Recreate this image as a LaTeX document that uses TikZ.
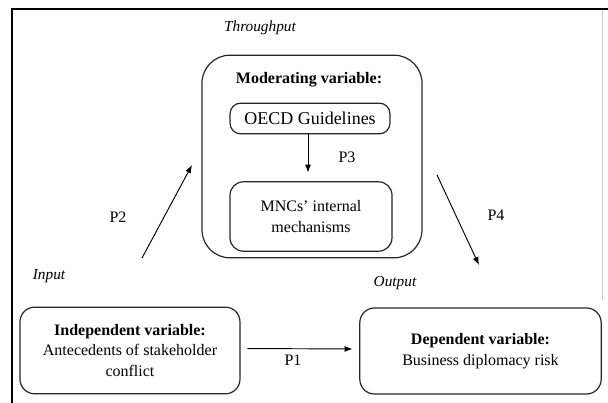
\documentclass[tikz,border=0pt]{standalone}
\usepackage{fontspec}
\setmainfont{Liberation Serif}
\usetikzlibrary{shapes, arrows.meta, positioning, calc}

\begin{document}
\begin{tikzpicture}[x=0.75pt, y=-0.75pt,
    varbox/.style={draw=black!85, line width=0.9pt, align=center, inner sep=0pt,
        font=\fontsize{12}{15.5}\selectfont},
    plabel/.style={font=\fontsize{12}{14}\selectfont},
    stage/.style={font=\fontsize{11.5}{14}\selectfont\itshape},
    link/.style={-{Latex[length=6pt, width=4.5pt]}, line width=0.7pt}]
                \useasboundingbox (0,0) rectangle (608,403);
                % page frame
                \draw[line width=2.2pt] (12,403) -- (12,9) -- (608,9);
                \draw[black!20, line width=0.5pt] (602,10) -- (602,300);
                % throughput block
                \node[stage] (thr) at (260,28) {Throughput};
                \node[varbox, rounded corners=21pt, minimum width=165pt, minimum height=152pt] (mod) at (312,156.5) {};
                \node[font=\fontsize{12}{14}\selectfont\bfseries] (modlbl) at (309,80) {Moderating variable:};
                \node[varbox, rounded corners=8pt, minimum width=120pt, minimum height=23pt,
                      font=\fontsize{13.5}{15}\selectfont] (oecd) at (310,118.5) {OECD Guidelines};
                \node[varbox, rounded corners=10pt, minimum width=121.5pt, minimum height=52pt] (mnc) at (311,216.5) {MNCs' internal\\mechanisms};
                \draw[link, shorten >=6.5pt] (oecd.south -| 308,0) -- (mnc.north -| 308,0);
                \node[plabel] (p3) at (347,157) {P3};
                % input and output
                \node[stage] (inp) at (49,276) {Input};
                \node[stage] (outp) at (395,283) {Output};
                \node[varbox, rounded corners=11pt, minimum width=165pt, minimum height=65pt] (indep) at (130,350.5)
                    {\textbf{Independent variable:}\\Antecedents of stakeholder\\conflict};
                \node[varbox, rounded corners=11pt, minimum width=181pt, minimum height=64.5pt] (dep) at (480.5,351)
                    {\textbf{Dependent variable:}\\Business diplomacy risk};
                \draw[link, shorten <=5pt, shorten >=5pt] ([yshift=1.5pt]indep.east) -- ([yshift=1.5pt]dep.west);
                \node[plabel] (p1) at (293,360) {P1};
                % paths through the moderator
                \coordinate (p2s) at (142,258);
                \coordinate (p2e) at (192,165);
                \draw[link] (p2s) -- (p2e);
                \node[plabel] (p2) at (118,217) {P2};
                \coordinate (p4s) at (437,175);
                \coordinate (p4e) at (479,265);
                \draw[link] (p4s) -- (p4e);
                \node[plabel] (p4) at (496,215) {P4};
            \end{tikzpicture}
\end{document}
